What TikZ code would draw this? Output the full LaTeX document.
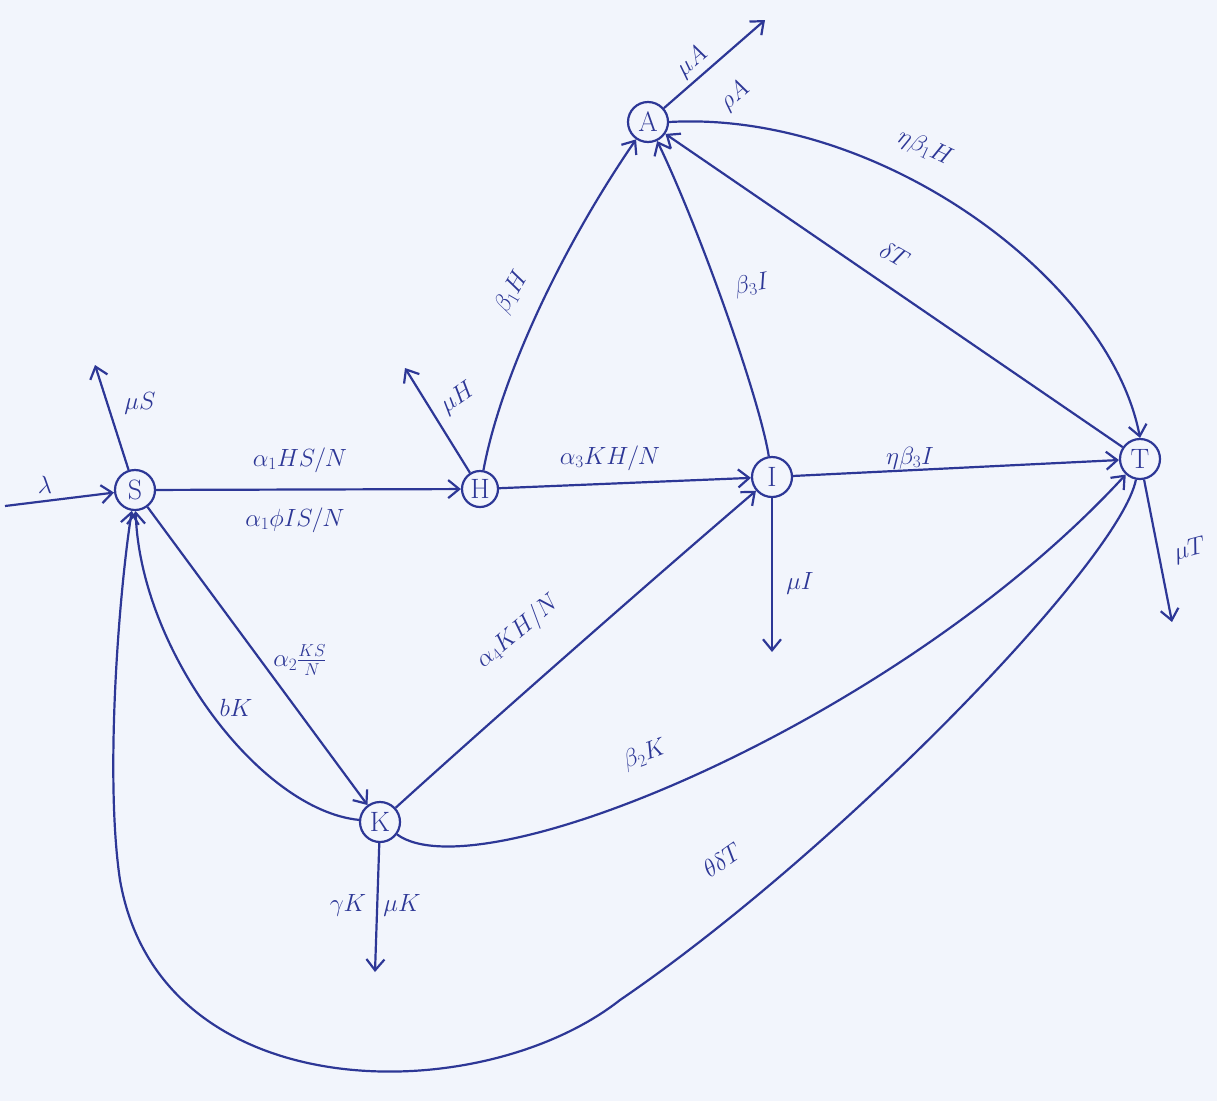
\documentclass[tikz,border=0pt]{standalone}
\usetikzlibrary{arrows.meta}
\definecolor{ink}{RGB}{45,55,150}
\definecolor{paper}{RGB}{242,245,252}
\begin{document}
\begin{tikzpicture}[x=1pt,y=-1pt,line width=2.2pt,color=ink,
  state/.style={circle,draw,inner sep=0pt,minimum size=40pt,font=\fontsize{28}{30}\selectfont},
  flow/.style={-{Straight Barb[length=11pt,width=18pt]}},
  lbl/.style={font=\fontsize{26}{28}\selectfont,inner sep=1pt}]
\fill[paper] (0,0) rectangle (1217,1101);
\useasboundingbox (0,0) rectangle (1217,1101);
% nodes
\node[state] (S) at (135,490) {S};
\node[state,minimum size=36pt] (H) at (480,489) {H};
\node[state] (I) at (772,477) {I};
\node[state] (A) at (648,122) {A};
\node[state] (T) at (1140,459) {T};
\node[state] (K) at (380,822) {K};
% free ends
\coordinate (lam) at (5,506);
\coordinate (muS) at (95,365);
\coordinate (muH) at (405,368);
\coordinate (muI) at (772,652);
\coordinate (muA) at (765,20);
\coordinate (muK) at (375,972);
\coordinate (muT) at (1172,622);
\coordinate (c1) at (620,1000);
\coordinate (c2) at (120,880);
% connectors
\draw[flow] (lam) -- (S);
\draw[flow] (S) -- (muS);
\draw[flow] (S) -- (H);
\draw[flow] (H) -- (muH);
\draw[flow] (H) .. controls (500,380) and (560,250) .. (A);
\draw[flow] (H) -- (I);
\draw[flow] (I) .. controls (760,400) and (700,230) .. (A);
\draw[flow] (I) -- (T);
\draw[flow] (I) -- (muI);
\draw[flow] (A) -- (muA);
\draw[flow] (A.east) .. controls (880,110) and (1110,280) .. (T.north);
\draw[flow] (T) -- (A);
\draw[flow] (S) -- (K);
\draw[flow] (K) .. controls (260,810) and (140,650) .. (S);
\draw[flow] (K) .. controls (470,740) and (640,590) .. (I);
\draw[flow] (K) .. controls (480,895) and (900,720) .. (T);
\draw[flow] (K) -- (muK);
\draw[flow] (T) -- (muT);
\draw[flow] (T) .. controls (1120,560) and (840,850) .. (c1)
  .. controls (480,1110) and (160,1110) .. (c2)
  .. controls (105,780) and (118,600) .. (S);
% labels
\node[lbl] (l1) at (45,485) {$\lambda$};
\node[lbl] (l2) at (140,403) {$\mu S$};
\node[lbl] (l3) at (300,460) {$\alpha_1 HS/N$};
\node[lbl] (l4) at (295,520) {$\alpha_1 \phi IS/N$};
\node[lbl,rotate=35] (l5) at (458,398) {$\mu H$};
\node[lbl,rotate=60] (l6) at (512,292) {$\beta_1 H$};
\node[lbl] (l7) at (610,458) {$\alpha_3 KH/N$};
\node[lbl,rotate=10] (l8) at (752,285) {$\beta_3 I$};
\node[lbl] (l9) at (910,458) {$\eta\beta_3 I$};
\node[lbl] (l10) at (800,583) {$\mu I$};
\node[lbl,rotate=40] (l11) at (692,62) {$\mu A$};
\node[lbl,rotate=40] (l12) at (735,96) {$\rho A$};
\node[lbl,rotate=-25] (l13) at (925,148) {$\eta\beta_1 H$};
\node[lbl,rotate=-30] (l14) at (895,255) {$\delta T$};
\node[lbl] (l15) at (300,660) {$\alpha_2 \frac{KS}{N}$};
\node[lbl] (l16) at (236,708) {$bK$};
\node[lbl,rotate=40] (l17) at (518,632) {$\alpha_4 KH/N$};
\node[lbl,rotate=20] (l18) at (645,755) {$\beta_2 K$};
\node[lbl] (l19) at (348,905) {$\gamma K$};
\node[lbl] (l20) at (402,905) {$\mu K$};
\node[lbl,rotate=35] (l21) at (722,860) {$\theta\delta T$};
\node[lbl,rotate=15] (l22) at (1190,550) {$\mu T$};
\end{tikzpicture}
\end{document}
